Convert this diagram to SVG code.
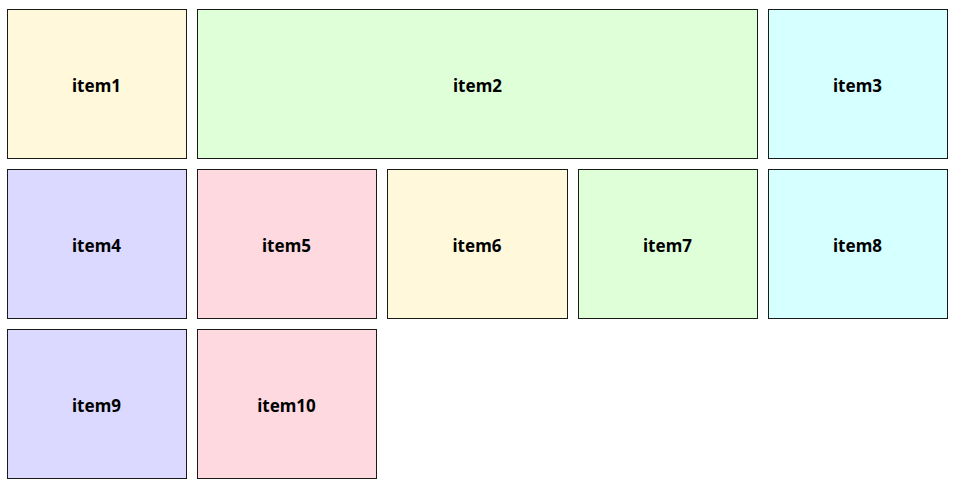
<svg xmlns="http://www.w3.org/2000/svg" width="956" height="501" viewBox="0 0 956 501">
<style>
.n rect{stroke:#1a1a1a;stroke-width:1}
text{font-family:"Noto Sans","Open Sans","DejaVu Sans",sans-serif;font-weight:bold;font-size:17px;fill:#000;text-anchor:middle;dominant-baseline:central}
.y{fill:#fff8da}.g{fill:#dfffd9}.c{fill:#d6ffff}.l{fill:#dbd9ff}.p{fill:#ffd9e0}
</style>
<rect width="956" height="501" fill="#fff"/>
<g id="item1" class="n"><rect class="y" x="7.5" y="9.5" width="179" height="149"/><text x="96.5" y="85">item1</text></g>
<g id="item2" class="n"><rect class="g" x="197.5" y="9.5" width="560" height="149"/><text x="477.5" y="85">item2</text></g>
<g id="item3" class="n"><rect class="c" x="768.5" y="9.5" width="179" height="149"/><text x="857.5" y="85">item3</text></g>
<g id="item4" class="n"><rect class="l" x="7.5" y="169.5" width="179" height="149"/><text x="96.5" y="245">item4</text></g>
<g id="item5" class="n"><rect class="p" x="197.5" y="169.5" width="179" height="149"/><text x="286.5" y="245">item5</text></g>
<g id="item6" class="n"><rect class="y" x="387.5" y="169.5" width="180" height="149"/><text x="477" y="245">item6</text></g>
<g id="item7" class="n"><rect class="g" x="578.5" y="169.5" width="179" height="149"/><text x="667.5" y="245">item7</text></g>
<g id="item8" class="n"><rect class="c" x="768.5" y="169.5" width="179" height="149"/><text x="857.5" y="245">item8</text></g>
<g id="item9" class="n"><rect class="l" x="7.5" y="329.5" width="179" height="149"/><text x="96.5" y="405">item9</text></g>
<g id="item10" class="n"><rect class="p" x="197.5" y="329.5" width="179" height="149"/><text x="286.5" y="405">item10</text></g>
<g id="connectors"></g>
</svg>
